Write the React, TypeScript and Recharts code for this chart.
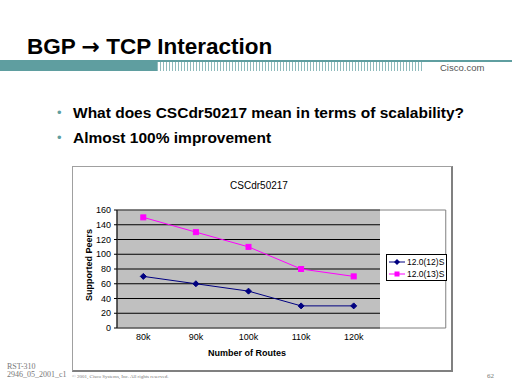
import React from 'react';
import { LineChart, Line, XAxis, YAxis, CartesianGrid, Legend, ReferenceArea } from 'recharts';

const routes = ['80k', '90k', '100k', '110k', '120k'];
const peers12 = [70, 60, 50, 30, 30];
const peers13 = [150, 130, 110, 80, 70];
const yTicks = [0, 20, 40, 60, 80, 100, 120, 140, 160];
const edgeTicks = [0, 1, 2, 3, 4, 5];

const NAVY = '#000080';
const MAGENTA = '#ff00ff';
const TEAL = '#5f9ea0';

const data = routes.map((r, i) => ({ routes: r, s12: peers12[i], s13: peers13[i] }));

const Diamond = (props: any) => {
  const { cx, cy, key } = props;
  if (cx == null || cy == null) return <g key={key} />;
  return <polygon key={key} points={`${cx},${cy - 3} ${cx + 3},${cy} ${cx},${cy + 3} ${cx - 3},${cy}`} fill={NAVY} stroke={NAVY} />;
};

const Square = (props: any) => {
  const { cx, cy, key } = props;
  if (cx == null || cy == null) return <g key={key} />;
  return <rect key={key} x={cx - 2.5} y={cy - 2.5} width={5} height={5} fill={MAGENTA} stroke={MAGENTA} />;
};

const LegendBox = (props: any) => {
  const { payload } = props;
  return (
    <div style={{ width: 61, height: 27, boxSizing: 'border-box', border: '1px solid #000', background: '#fff', padding: '1px 1px' }}>
      {(payload || []).map((p: any) => (
        <div key={p.value} style={{ display: 'flex', alignItems: 'center', height: 12 }}>
          <svg width={18} height={8} style={{ flex: 'none' }}>
            <line x1={1} y1={4} x2={17} y2={4} stroke={p.color} />
            {p.dataKey === 's12'
              ? <polygon points="9,1 12,4 9,7 6,4" fill={p.color} />
              : <rect x={6.5} y={1.5} width={5} height={5} fill={p.color} />}
          </svg>
          <span style={{ fontSize: 8.5, color: '#000', marginLeft: 1, whiteSpace: 'nowrap' }}>{p.value}</span>
        </div>
      ))}
    </div>
  );
};

const App: React.FC = () => {
  return (
    <div style={{ position: 'absolute', left: 0, top: 0, width: 512, height: 384, background: '#fff', overflow: 'hidden', fontFamily: 'Arial, "Liberation Sans", sans-serif' }}>
      {/* Slide header */}
      <div style={{ position: 'absolute', left: 27, top: 36, fontSize: 22.5, lineHeight: 1, fontWeight: 'bold', color: '#000', whiteSpace: 'nowrap' }}>
        BGP <span style={{ fontFamily: '"DejaVu Sans", sans-serif', fontSize: 22 }}>→</span> TCP Interaction
      </div>
      <div style={{ position: 'absolute', left: 0, top: 60, width: 512, height: 2, background: TEAL }} />
      <div style={{ position: 'absolute', left: 0, top: 60, width: 157, height: 11, background: TEAL }} />
      <div style={{ position: 'absolute', left: 157, top: 62, width: 265, height: 9, background: `repeating-linear-gradient(90deg, ${TEAL} 0 1px, #fff 1px 3px)`, opacity: 0.7 }} />
      <div style={{ position: 'absolute', left: 440, top: 63, fontSize: 9.5, lineHeight: 1, color: '#555' }}>Cisco.com</div>

      {/* Bullets */}
      <div style={{ position: 'absolute', left: 57, top: 106, fontSize: 13, lineHeight: 1, color: TEAL }}>•</div>
      <div style={{ position: 'absolute', left: 73, top: 105, fontSize: 15.5, lineHeight: 1, fontWeight: 'bold', color: '#000', whiteSpace: 'nowrap' }}>
        What does CSCdr50217 mean in terms of scalability?
      </div>
      <div style={{ position: 'absolute', left: 57, top: 131, fontSize: 13, lineHeight: 1, color: TEAL }}>•</div>
      <div style={{ position: 'absolute', left: 73, top: 130, fontSize: 15.5, lineHeight: 1, fontWeight: 'bold', color: '#000', whiteSpace: 'nowrap' }}>
        Almost 100% improvement
      </div>

      {/* Chart object */}
      <div style={{ position: 'absolute', left: 72, top: 166, width: 381, height: 206 }}>
        <div style={{ position: 'absolute', inset: 0, boxSizing: 'border-box', borderTop: '1px solid #a0a0a0', borderLeft: '1px solid #a0a0a0', borderRight: '2px solid #808080', borderBottom: '2px solid #808080' }} />
        <div style={{ position: 'absolute', left: 0, top: 0 }}>
          <LineChart width={381} height={206} data={data} margin={{ top: 44, right: 73, left: 0, bottom: 0 }}>
            <CartesianGrid xAxisId="cat" vertical={false} stroke="#000" fill="#c0c0c0" fillOpacity={1} />
            <XAxis xAxisId="edge" type="number" domain={[0, 5]} ticks={edgeTicks} height={0} tick={false}
              tickSize={3} axisLine={{ stroke: '#000' }} tickLine={{ stroke: '#000' }} />
            <XAxis xAxisId="cat" dataKey="routes" scale="band" height={44} tickLine={false} axisLine={false} tickSize={0} tickMargin={6}
              interval={0} tick={{ fontSize: 9, fill: '#000' }} />
            <YAxis width={45} domain={[0, 160]} ticks={yTicks} interval={0} tickSize={3} tickMargin={3}
              axisLine={{ stroke: '#000' }} tickLine={{ stroke: '#000' }} tick={{ fontSize: 9, fill: '#000' }} />
            <ReferenceArea xAxisId="edge" x1={0} x2={5} y1={0} y2={160} fill="none" stroke="#808080" ifOverflow="visible" />
            <Line xAxisId="cat" dataKey="s12" name="12.0(12)S" stroke={NAVY} strokeWidth={1} dot={Diamond} activeDot={false} isAnimationActive={false} />
            <Line xAxisId="cat" dataKey="s13" name="12.0(13)S" stroke={MAGENTA} strokeWidth={1} dot={Square} activeDot={false} isAnimationActive={false} />
            <Legend layout="horizontal" align="center" verticalAlign="middle" content={LegendBox}
              wrapperStyle={{ position: 'absolute', left: 314, top: 88, width: 61, height: 27 }} />
          </LineChart>
        </div>
        <div style={{ position: 'absolute', left: 187, top: 19, transform: 'translate(-50%, -50%)', fontSize: 10, color: '#000', whiteSpace: 'nowrap' }}>CSCdr50217</div>
        <div style={{ position: 'absolute', left: 17, top: 99, transform: 'translate(-50%, -50%) rotate(-90deg)', fontSize: 9, fontWeight: 'bold', color: '#000', whiteSpace: 'nowrap' }}>Supported Peers</div>
        <div style={{ position: 'absolute', left: 175, top: 187, transform: 'translate(-50%, -50%)', fontSize: 9, fontWeight: 'bold', color: '#000', whiteSpace: 'nowrap' }}>Number of Routes</div>
      </div>

      {/* Footer */}
      <div style={{ position: 'absolute', left: 7, top: 363, fontSize: 8, lineHeight: 1, fontFamily: '"Liberation Serif", serif', color: '#777' }}>RST-310</div>
      <div style={{ position: 'absolute', left: 7, top: 371, fontSize: 8, lineHeight: 1, fontFamily: '"Liberation Serif", serif', color: '#777' }}>2946_05_2001_c1</div>
      <div style={{ position: 'absolute', left: 72, top: 374, fontSize: 5, lineHeight: 1, fontFamily: '"Liberation Serif", serif', color: '#777', whiteSpace: 'nowrap' }}>© 2001, Cisco Systems, Inc. All rights reserved.</div>
      <div style={{ position: 'absolute', left: 487, top: 373, fontSize: 7, lineHeight: 1, fontFamily: '"Liberation Serif", serif', color: '#777' }}>62</div>
    </div>
  );
};

export default App;
